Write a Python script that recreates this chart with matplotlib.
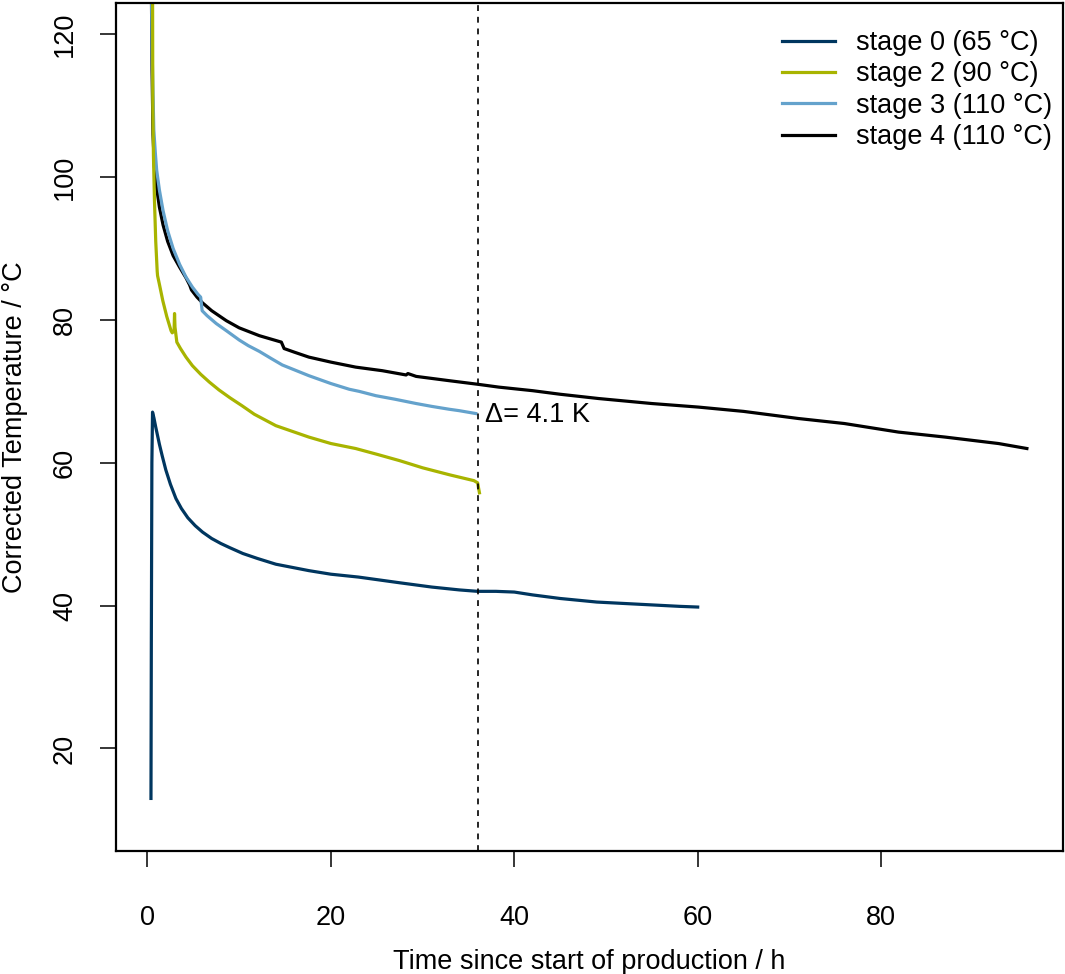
import matplotlib
matplotlib.use("Agg")
import matplotlib.pyplot as plt

plt.rcParams['font.family'] = ['Liberation Sans', 'DejaVu Sans']

# values (time in h, temperature in degC)
s0_t = [0.38, 0.42, 0.48, 0.55, 0.7, 0.9, 1.1, 1.3, 1.6, 2.0, 2.5, 3.1, 3.7, 4.4, 5.2, 6.0,
        7.0, 8.0, 9.0, 10.4, 12.0, 14.0, 16.0, 17.6, 20.0, 23.0, 27.5, 31.0, 34.0, 36.0,
        38.0, 40.0, 42.0, 45.0, 49.0, 52.0, 55.0, 58.0, 60.0]
s0_y = [13.0, 35.0, 60.0, 67.1, 66.3, 65.0, 63.8, 62.6, 61.0, 59.0, 57.0, 55.0, 53.6, 52.3, 51.2, 50.3,
        49.4, 48.7, 48.1, 47.3, 46.6, 45.8, 45.3, 44.9, 44.4, 44.0, 43.2, 42.6, 42.2, 42.0,
        42.0, 41.9, 41.5, 41.0, 40.5, 40.3, 40.1, 39.9, 39.8]

s2_t = [0.55, 0.58, 0.65, 0.76, 0.9, 1.06, 1.1, 1.3, 1.67, 2.1, 2.57, 2.7, 2.9, 2.95, 3.0,
        3.2, 3.6, 4.2, 4.9, 5.8, 6.75, 7.8, 9.0, 10.3, 11.65, 14.0, 17.6, 20.0, 22.7, 25.0,
        27.5, 30.0, 33.0, 35.6, 36.0, 36.2]
s2_y = [130, 110, 103, 96.8, 91.0, 86.8, 86.2, 85.0, 82.7, 80.5, 78.5, 78.2, 78.5, 80.9, 79.0,
        76.9, 76.0, 74.8, 73.6, 72.4, 71.3, 70.2, 69.1, 68.0, 66.8, 65.2, 63.6, 62.7, 62.0, 61.2,
        60.3, 59.3, 58.3, 57.5, 57.2, 55.8]

s3_t = [0.4, 0.5, 0.69, 0.85, 1.0, 1.3, 1.7, 2.2, 2.8, 3.5, 4.2, 4.9, 5.5, 5.8, 5.96, 6.5,
        7.5, 8.6, 10.0, 11.0, 12.2, 13.5, 14.7, 17.6, 20.0, 22.0, 23.1, 24.9, 27.0, 29.3,
        31.0, 32.9, 34.0, 35.8]
s3_y = [130, 118, 106.6, 103.5, 101.0, 98.2, 95.3, 92.5, 90.0, 87.8, 86.0, 84.6, 83.6, 83.2, 81.3, 80.6,
        79.5, 78.5, 77.2, 76.4, 75.6, 74.6, 73.7, 72.2, 71.1, 70.3, 70.0, 69.4, 68.9, 68.3,
        67.9, 67.5, 67.3, 66.9]

s4_t = [0.4, 0.5, 0.6, 0.76, 1.0, 1.3, 1.7, 2.2, 2.8, 3.5, 4.2, 4.6, 4.8, 5.4, 6.0, 7.0, 8.6,
        10.0, 12.2, 14.6, 14.9, 16.0, 17.6, 20.0, 22.7, 25.6, 28.2, 28.4, 29.3, 32.9, 36.0,
        38.3, 42.0, 45.0, 49.2, 55.0, 60.1, 65.0, 71.0, 76.0, 81.9, 87.0, 92.8, 95.9]
s4_y = [130, 115, 106, 101.4, 98.5, 95.8, 93.3, 91.0, 89.0, 87.4, 85.9, 84.9, 84.2, 83.2, 82.4, 81.3, 79.9,
        78.9, 77.8, 76.9, 76.0, 75.5, 74.8, 74.1, 73.4, 72.9, 72.3, 72.5, 72.1, 71.5, 71.0,
        70.6, 70.1, 69.6, 69.0, 68.3, 67.8, 67.2, 66.2, 65.5, 64.3, 63.6, 62.7, 62.0]

labels = ["stage 0 (65 °C)", "stage 2 (90 °C)", "stage 3 (110 °C)", "stage 4 (110 °C)"]
colors = ["#00365f", "#a8b400", "#64a2cc", "#000000"]

t_cut = 36.0
delta_text = "Δ= 4.1 K"

fig = plt.figure(figsize=(10.65, 9.74), dpi=100)
ax = fig.add_axes([0.109, 0.126, 0.889, 0.871])

lw = 2.3
l4, = ax.plot(s4_t, s4_y, color=colors[3], lw=lw)
l3, = ax.plot(s3_t, s3_y, color=colors[2], lw=lw)
l2, = ax.plot(s2_t, s2_y, color=colors[1], lw=lw)
l0, = ax.plot(s0_t, s0_y, color=colors[0], lw=lw)

ax.axvline(t_cut, color="black", lw=1.2, ls=(0, (3.5, 3.5)))
ax.text(t_cut + 0.8, 66.7, delta_text, fontsize=19.5, va="center", ha="left")

# R style ranges: 4 % padding
ax.set_xlim(-0.04 * 95.6 + 0.4, 96.0 + 0.04 * 95.6)
ax.set_ylim(10 - 4.4, 120 + 4.4)
ax.set_xticks([0, 20, 40, 60, 80])
ax.set_yticks([20, 40, 60, 80, 100, 120])

for sp in ax.spines.values():
    sp.set_linewidth(1.6)
ax.tick_params(axis="both", direction="out", length=11.5, width=1.1, labelsize=19.5)
ax.tick_params(axis="x", pad=27)
ax.tick_params(axis="y", pad=16, labelrotation=90)
for lab in ax.get_yticklabels():
    lab.set_va("center")

ax.set_xlabel("Time since start of production / h", fontsize=19.5)
ax.set_ylabel("Corrected Temperature / °C", fontsize=19.5)
ax.xaxis.set_label_coords(0.5, -0.13)
ax.yaxis.set_label_coords(-0.107, 0.5)
ax.xaxis.label.set_va("center")
ax.yaxis.label.set_va("center")

ax.legend([l0, l2, l3, l4], labels, loc="upper right", bbox_to_anchor=(0.989, 0.968),
          frameon=False, fontsize=19.5, handlelength=1.95, handletextpad=0.8,
          labelspacing=0.2, borderpad=0, borderaxespad=0)

fig.savefig("out.png", dpi=100)
